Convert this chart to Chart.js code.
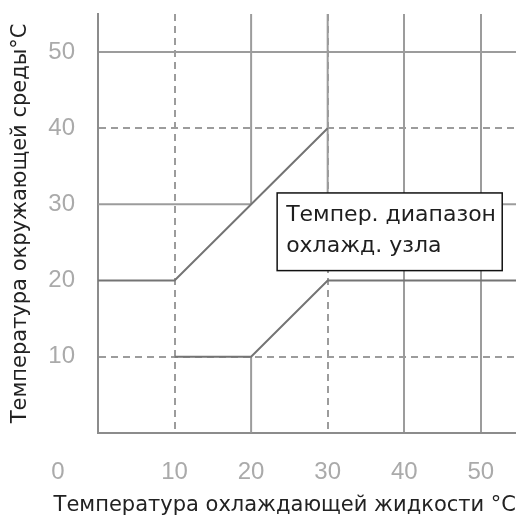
<!DOCTYPE html>
<html>
<head>
<meta charset="utf-8">
<script src="https://cdn.jsdelivr.net/npm/chart.js@4.4.1/dist/chart.umd.min.js"></script>
<style>
  body { margin: 0; background: #fff; }
</style>
</head>
<body>
<canvas id="grafico" width="516" height="525"></canvas>
<script>
// eixos
const eixoXMax = 54.6;
const eixoYMax = 55;
const ticksX = [10, 20, 30, 40, 50];
const ticksY = [10, 20, 30, 40, 50];
const tracejadasX = [10, 30];
const tracejadasY = [10, 40];
const ocultasX = [0, 20];
const ocultasY = [0, 20, 30];

// limites da faixa de temperatura
const limiteSuperiorX = [0, 10, 30];
const limiteSuperiorY = [20, 20, 40];
const limiteInferiorX = [10, 20, 30, 54.6];
const limiteInferiorY = [10, 10, 20, 20];

// trechos de linhas de grade que aparecem só em parte
const trechosX = [[20, 20], [20, 20], [0, 20], [30, 54.6], [30, 30]];
const trechosY = [[0, 10], [30, 55], [30, 30], [30, 30], [30, 55]];

const tituloY = 'Температура окружающей среды°C';
const tituloX = 'Температура охлаждающей жидкости °C';
const textoCaixa = ['Темпер. диапазон', 'охлажд. узла'];

const corGrade = '#9c9c9c';
const fonte = "'Liberation Sans', Arial, sans-serif";
const fonteTexto = "'DejaVu Sans', Verdana, sans-serif";

function pontos(xs, ys) {
  return xs.map(function (x, i) { return { x: x, y: ys[i] }; });
}

function linha(xs, ys, cor) {
  return {
    data: pontos(xs, ys),
    borderColor: cor,
    borderWidth: 2,
    pointRadius: 0,
    fill: false,
    tension: 0
  };
}

const datasets = [
  linha(limiteSuperiorX, limiteSuperiorY, '#747474'),
  linha(limiteInferiorX, limiteInferiorY, '#747474')
];
trechosX.forEach(function (xs, i) {
  datasets.push(linha(xs, trechosY[i], corGrade));
});

// caixa de texto e o "0" do canto
const extras = {
  id: 'extras',
  afterDatasetsDraw(chart) {
    const ctx = chart.ctx;
    const x = chart.scales.x;
    const y = chart.scales.y;
    const esq = x.getPixelForValue(23.4);
    const dir = x.getPixelForValue(52.8);
    const topo = y.getPixelForValue(31.5);
    const base = y.getPixelForValue(21.3);
    ctx.save();
    ctx.fillStyle = '#fff';
    ctx.fillRect(esq, topo, dir - esq, base - topo);
    ctx.strokeStyle = '#111';
    ctx.lineWidth = 1.5;
    ctx.strokeRect(esq, topo, dir - esq, base - topo);
    ctx.fillStyle = '#1e1e1e';
    ctx.font = '22px ' + fonteTexto;
    ctx.textBaseline = 'middle';
    ctx.textAlign = 'left';
    ctx.fillText(textoCaixa[0], esq + 9, topo + 22);
    ctx.fillText(textoCaixa[1], esq + 9, topo + 53);

    ctx.fillStyle = '#aaaaaa';
    ctx.font = '24px ' + fonte;
    ctx.textAlign = 'center';
    ctx.fillText('0', chart.chartArea.left - 40, chart.chartArea.bottom + 40);
    ctx.restore();
  }
};

new Chart(document.getElementById('grafico'), {
  type: 'line',
  data: { datasets: datasets },
  options: {
    responsive: false,
    animation: false,
    layout: { padding: { top: 14, right: 0, bottom: 0, left: 0 } },
    plugins: {
      legend: { display: false },
      tooltip: { enabled: false },
      title: {
        display: true,
        position: 'bottom',
        align: 'end',
        text: tituloX,
        color: '#222',
        font: { family: fonteTexto, size: 21, weight: 'normal' },
        padding: { top: 0, bottom: 7 }
      }
    },
    scales: {
      x: {
        type: 'linear',
        min: 0,
        max: eixoXMax,
        afterFit: function (escala) {
          escala.height = 60;
          escala.paddingLeft = 0;
          escala.paddingRight = 0;
        },
        ticks: {
          stepSize: 10,
          includeBounds: false,
          padding: 25,
          color: '#aaaaaa',
          font: { family: fonte, size: 24 },
          maxRotation: 0,
          callback: function (v) { return ticksX.includes(v) ? String(v) : ''; }
        },
        grid: {
          drawTicks: false,
          lineWidth: 2,
          color: function (c) { return c.tick && ocultasX.includes(c.tick.value) ? 'rgba(0,0,0,0)' : corGrade; }
        },
        border: {
          display: true,
          color: '#8c8c8c',
          width: 2,
          dash: function (c) { return c.type === 'tick' && tracejadasX.includes(c.tick.value) ? [7, 5] : []; }
        }
      },
      y: {
        min: 0,
        max: eixoYMax,
        afterFit: function (escala) {
          escala.width = 98;
          escala.paddingTop = 0;
          escala.paddingBottom = 0;
        },
        title: {
          display: true,
          text: tituloY,
          color: '#222',
          font: { family: fonteTexto, size: 21 },
          padding: { top: 8, bottom: 0 }
        },
        ticks: {
          stepSize: 10,
          includeBounds: false,
          padding: 23,
          color: '#aaaaaa',
          font: { family: fonte, size: 24 },
          callback: function (v) { return ticksY.includes(v) ? String(v) : ''; }
        },
        grid: {
          drawTicks: false,
          lineWidth: 2,
          color: function (c) { return c.tick && ocultasY.includes(c.tick.value) ? 'rgba(0,0,0,0)' : corGrade; }
        },
        border: {
          display: true,
          color: '#8c8c8c',
          width: 2,
          dash: function (c) { return c.type === 'tick' && tracejadasY.includes(c.tick.value) ? [7, 5] : []; }
        }
      }
    }
  },
  plugins: [extras]
});
</script>
</body>
</html>
